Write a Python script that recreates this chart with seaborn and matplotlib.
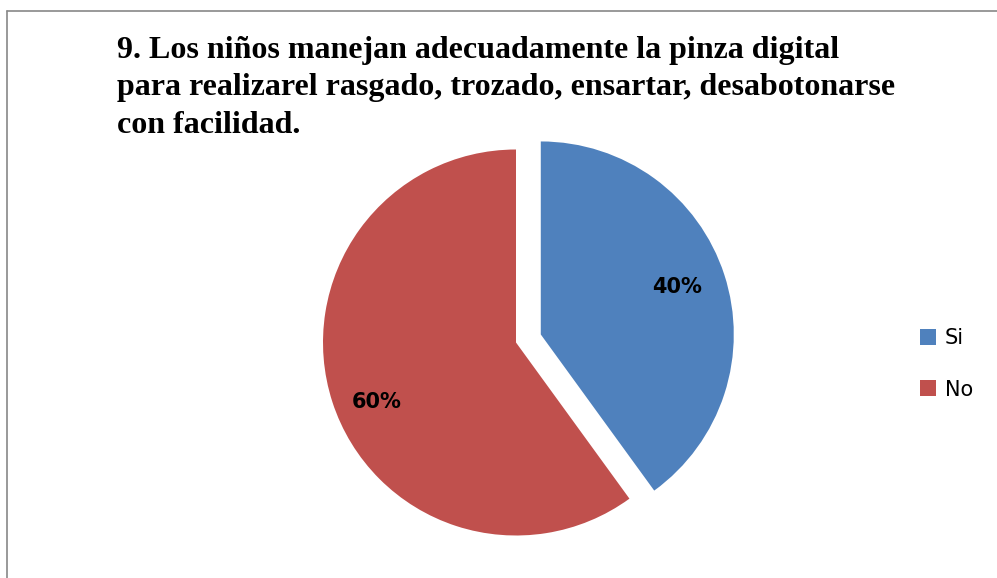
import matplotlib
matplotlib.use("Agg")
import matplotlib.pyplot as plt
from matplotlib.lines import Line2D
import seaborn as sns

# Daten
categories = ["Si", "No"]
percentages = [40, 60]
colors = ["#4F81BD", "#C0504D"]
title_lines = [
    "9. Los niños manejan adecuadamente la pinza digital",
    "para realizarel rasgado, trozado, ensartar, desabotonarse",
    "con facilidad.",
]

sns.set_theme(style="white")
plt.rcParams["font.family"] = ["DejaVu Sans"]
plt.rcParams["text.color"] = "black"

W, H = 997, 578
fig = plt.figure(figsize=(W / 100, H / 100), dpi=100)

# Achse so platzieren, dass r=1 etwa 193 px entspricht
r_px = 193
cx, cy = 516, H - 342.5
ax = fig.add_axes([(cx - 2 * r_px) / W, (cy - 1.2 * r_px) / H, 4 * r_px / W, 2.4 * r_px / H])

wedges, texts, autotexts = ax.pie(
    percentages,
    colors=colors,
    startangle=90,
    counterclock=False,
    explode=[0.135, 0.0],
    autopct="%1.0f%%",
    pctdistance=0.74,
    textprops={"fontsize": 15, "fontweight": "bold", "color": "black"},
    wedgeprops={"linewidth": 0},
)
# Beschriftungen etwas verschieben wie im Original
autotexts[0].set_position((0.833, 0.29))
autotexts[1].set_position((-0.72, -0.31))
ax.set_xlim(-2, 2)
ax.set_ylim(-1.2, 1.2)
ax.axis("off")

# Titel
for i, line in enumerate(title_lines):
    fig.text(117 / W, 1 - (58 + 37.5 * i) / H, line, ha="left", va="baseline",
             fontsize=23, fontweight="bold", family=["Liberation Serif"], color="black")

# Legende
leg = fig.legend(wedges, categories, loc="center left", bbox_to_anchor=(901 / W, 1 - 364 / H),
                 frameon=False, fontsize=15, handlelength=0.8, handleheight=0.8,
                 handletextpad=0.4, labelspacing=1.5)
for t in leg.get_texts():
    t.set_color("black")

# Rahmen
fig.add_artist(Line2D([7 / W, 1.0], [1 - 11 / H, 1 - 11 / H], transform=fig.transFigure,
                      color="#888888", linewidth=1.2))
fig.add_artist(Line2D([7 / W, 7 / W], [1 - 11 / H, 0.0], transform=fig.transFigure,
                      color="#888888", linewidth=1.2))

fig.savefig("out.png", dpi=100)
